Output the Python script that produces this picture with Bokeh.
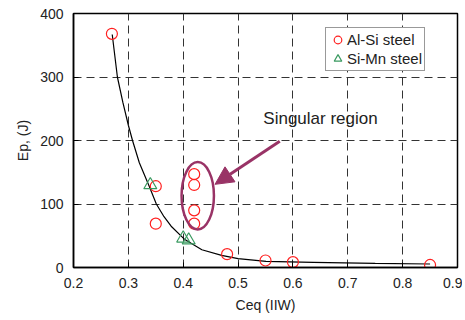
from bokeh.plotting import figure
from bokeh.models import Range1d, Legend, LegendItem, Arrow, NormalHead, FixedTicker
from bokeh.embed import file_html
from bokeh.resources import INLINE

# Data
alsi_ceq = [0.27, 0.35, 0.35, 0.42, 0.42, 0.42, 0.42, 0.48, 0.55, 0.60, 0.85]
alsi_ep = [368, 128, 69, 147, 130, 90, 69, 21, 11, 8.5, 4]
simn_ceq = [0.34, 0.40, 0.41]
simn_ep = [130, 46, 43]
fit_ceq = [0.2706, 0.280, 0.290, 0.300, 0.3076, 0.320, 0.338, 0.351, 0.365, 0.378, 0.403,
           0.434, 0.47, 0.50, 0.551, 0.637, 0.75, 0.85]
fit_ep = [367, 300, 260, 224, 200, 165, 128, 100, 80, 65, 44, 28, 19, 14, 9.5, 8, 6.5, 5.5]
x_ticks = [0.2, 0.3, 0.4, 0.5, 0.6, 0.7, 0.8, 0.9]
y_ticks = [0, 100, 200, 300, 400]
region_center = (0.4265, 113)
region_size = (0.059, 106)
arrow_from = (0.576, 199)
arrow_to = (0.458, 131)
annot_text = "Singular region"
annot_pos = (0.546, 235)

FONT = "Liberation Sans"
PLUM = "#993366"

p = figure(width=462, height=315, output_backend="svg", toolbar_location=None,
           x_range=Range1d(0.2, 0.9), y_range=Range1d(0, 400),
           min_border_left=73, min_border_right=5, min_border_top=13, min_border_bottom=46)
p.background_fill_color = "white"
p.border_fill_color = "white"
p.outline_line_color = "black"
p.outline_line_width = 1.5

for ax in (p.xaxis[0], p.yaxis[0]):
    ax.axis_line_color = "black"
    ax.axis_line_width = 1.5
    ax.major_tick_in = 5
    ax.major_tick_out = 0
    ax.minor_tick_line_color = None
    ax.major_tick_line_color = "black"
    ax.major_label_text_font = FONT
    ax.major_label_text_font_size = "14px"
    ax.major_label_text_color = "#222222"
    ax.axis_label_text_font = FONT
    ax.axis_label_text_font_size = "14px"
    ax.axis_label_text_font_style = "normal"
    ax.axis_label_text_color = "#222222"

p.xaxis.ticker = FixedTicker(ticks=x_ticks)
p.yaxis.ticker = FixedTicker(ticks=y_ticks)
p.xaxis.major_label_overrides = {t: f"{t:.1f}" for t in x_ticks}
p.xaxis.axis_label = "Ceq (IIW)"
p.yaxis.axis_label = "Ep, (J)"
p.xaxis.major_label_standoff = 10
p.yaxis.major_label_standoff = 10
p.xaxis.axis_label_standoff = 6
p.yaxis.axis_label_standoff = 6

p.xgrid.ticker = FixedTicker(ticks=x_ticks)
p.ygrid.ticker = FixedTicker(ticks=y_ticks)
for g in (p.xgrid[0], p.ygrid[0]):
    g.grid_line_color = "#333333"
    g.grid_line_dash = "8 5"
    g.grid_line_width = 1

p.line(fit_ceq, fit_ep, line_color="black", line_width=1.2)

r1 = p.scatter(alsi_ceq, alsi_ep, marker="circle", size=11, fill_color=None,
               line_color="#ff2020", line_width=1.2)
r2 = p.scatter(simn_ceq, simn_ep, marker="triangle", size=13, fill_color=None,
               line_color="#3a9a60", line_width=1.2)

p.ellipse(x=[region_center[0]], y=[region_center[1]], width=region_size[0], height=region_size[1],
          fill_color=None, line_color=PLUM, line_width=2.5)
p.add_layout(Arrow(end=NormalHead(size=18, fill_color=PLUM, line_color=PLUM),
                   x_start=arrow_from[0], y_start=arrow_from[1],
                   x_end=arrow_to[0], y_end=arrow_to[1],
                   line_color=PLUM, line_width=3))

p.text(x=[annot_pos[0]], y=[annot_pos[1]], text=[annot_text], text_font_size="17px",
       text_color="#222222", text_baseline="alphabetic", text_align="left",
       text_font={"value": FONT})

legend = Legend(items=[LegendItem(label="Al-Si steel", renderers=[r1]),
                       LegendItem(label="Si-Mn steel", renderers=[r2])],
                location=(252, 196))
legend.label_text_font = FONT
legend.label_text_font_size = "15px"
legend.label_text_color = "#222222"
legend.border_line_color = "#333333"
legend.border_line_width = 1.2
legend.background_fill_color = "white"
legend.background_fill_alpha = 1
legend.glyph_width = 19
legend.glyph_height = 19
legend.label_standoff = 0
legend.padding = 2
legend.spacing = 0
legend.margin = 0
legend.label_height = 17
p.add_layout(legend, "center")

open("out.html", "w").write(file_html(p, INLINE))
